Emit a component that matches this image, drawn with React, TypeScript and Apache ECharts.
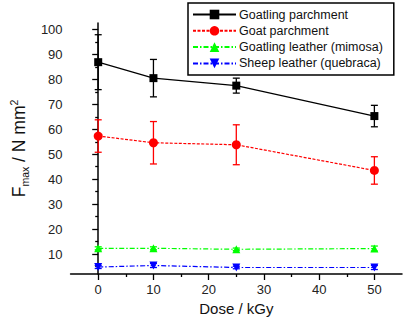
import React, { useEffect, useRef } from "react";
import * as echarts from "echarts";

const doses = [0, 10, 25, 50];
const seriesNames = [
  "Goatling parchment",
  "Goat parchment",
  "Goatling leather (mimosa)",
  "Sheep leather (quebraca)",
];
const goatlingParchment = [86.9, 80.5, 77.5, 65.3];
const goatlingParchmentErr = [11, 7.5, 3, 4.3];
const goatParchment = [57.3, 54.6, 53.8, 43.5];
const goatParchmentErr = [6.5, 8.5, 8, 5.5];
const goatlingLeather = [12.3, 12.3, 11.9, 12.2];
const goatlingLeatherErr = [0.6, 0.6, 0.5, 1.0];
const sheepLeather = [4.8, 5.4, 4.6, 4.6];
const sheepLeatherErr = [0.6, 0.8, 0.5, 0.8];

const yLabelValues = [10, 20, 30, 40, 50, 60, 70, 80, 90, 100];
const yMinorValues = [5, 15, 25, 35, 45, 55, 65, 75, 85, 95];
const xLabelValues = [0, 10, 20, 30, 40, 50];
const xMinorValues = [5, 15, 25, 35, 45];

const FONT = "Liberation Sans, Arial, sans-serif";

export default function App() {
  const ref = useRef<HTMLDivElement>(null);
  useEffect(() => {
    if (!ref.current) return;
    const chart = echarts.init(ref.current, null, { renderer: "svg" });
    const colors = ["#000000", "#ff0000", "#00ff00", "#0000ff"];
    const values = [goatlingParchment, goatParchment, goatlingLeather, sheepLeather];
    const errs = [goatlingParchmentErr, goatParchmentErr, goatlingLeatherErr, sheepLeatherErr];
    const symbols = ["rect", "circle", "triangle", "path://M0,0 L10,0 L5,9 Z"];
    const symbolSizes = [8, 9, 8, 8];
    const lineTypes: any[] = ["solid", [3, 1.5], [5, 2, 1.5, 2], [5, 2, 1.5, 2]];

    const lineSeries = values.map((vals, i) => ({
      name: seriesNames[i],
      type: "line",
      xAxisIndex: 0,
      yAxisIndex: 0,
      data: doses.map((d, j) => [d, vals[j]]),
      symbol: symbols[i],
      symbolSize: symbolSizes[i],
      itemStyle: { color: colors[i] },
      lineStyle: { color: colors[i], width: 1.2, type: lineTypes[i] },
      z: 3,
    }));

    const errSeries = values.map((vals, i) => ({
      name: seriesNames[i] + " err",
      type: "custom",
      xAxisIndex: 0,
      yAxisIndex: 0,
      data: doses.map((d, j) => [d, vals[j] - errs[i][j], vals[j] + errs[i][j]]),
      renderItem: (params: any, api: any) => {
        const lo = api.coord([api.value(0), api.value(1)]);
        const hi = api.coord([api.value(0), api.value(2)]);
        const w = 3.5;
        const style = { stroke: colors[i], lineWidth: 1.3 };
        return {
          type: "group",
          children: [
            { type: "line", shape: { x1: lo[0], y1: lo[1], x2: hi[0], y2: hi[1] }, style },
            { type: "line", shape: { x1: lo[0] - w, y1: lo[1], x2: lo[0] + w, y2: lo[1] }, style },
            { type: "line", shape: { x1: hi[0] - w, y1: hi[1], x2: hi[0] + w, y2: hi[1] }, style },
          ],
        };
      },
      z: 2,
      silent: true,
    }));

    const axisLine = { show: true, lineStyle: { color: "#000", width: 1.5 } };

    chart.setOption({
      animation: false,
      grid: { left: 67, right: 1, top: 23, bottom: 50, containLabel: false },
      legend: {
        orient: "vertical",
        left: 188,
        top: 3,
        data: seriesNames,
        itemWidth: 43,
        itemHeight: 12,
        itemGap: 3.3,
        padding: [5, 11, 5, 4],
        borderColor: "#000",
        borderWidth: 1.5,
        borderRadius: 0,
        backgroundColor: "#fff",
        textStyle: { fontSize: 12.5, fontFamily: FONT, color: "#111", padding: [0, 0, 0, -2] },
      },
      xAxis: [
        {
          type: "value",
          min: -5,
          max: 55,
          name: "Dose / kGy",
          nameLocation: "middle",
          nameGap: 27,
          nameTextStyle: { fontSize: 15, fontFamily: FONT, color: "#111" },
          axisLine,
          splitLine: { show: false },
          axisTick: { show: true, customValues: xLabelValues, length: 6, inside: false, lineStyle: { color: "#000", width: 1.3 } },
          axisLabel: { customValues: xLabelValues, fontSize: 13, fontFamily: FONT, color: "#222", margin: 9 },
        },
        {
          type: "value",
          min: -5,
          max: 55,
          position: "bottom",
          axisLine: { show: false },
          splitLine: { show: false },
          axisTick: { show: true, customValues: xMinorValues, length: 3, lineStyle: { color: "#000", width: 1.3 } },
          axisLabel: { show: false },
        },
      ],
      yAxis: [
        {
          type: "value",
          min: 2,
          max: 102.6,
          name: "{a|F}{b|max}{a| / N mm}{c|2}",
          nameLocation: "middle",
          nameRotate: 90,
          nameGap: 32,
          nameTextStyle: {
            fontFamily: FONT,
            color: "#111",
            rich: {
              a: { fontSize: 17.5, fontFamily: FONT, color: "#111", verticalAlign: "middle", lineHeight: 22 },
              b: { fontSize: 10.5, fontFamily: FONT, color: "#111", verticalAlign: "bottom", lineHeight: 22, padding: [8, 0, 0, 0] },
              c: { fontSize: 10.5, fontFamily: FONT, color: "#111", verticalAlign: "top", lineHeight: 22, padding: [0, 0, 10, 0] },
            },
          },
          axisLine,
          splitLine: { show: false },
          axisTick: { show: true, customValues: yLabelValues, length: 6, lineStyle: { color: "#000", width: 1.3 } },
          axisLabel: { customValues: yLabelValues, fontSize: 13, fontFamily: FONT, color: "#222", margin: 8 },
        },
        {
          type: "value",
          min: 2,
          max: 102.6,
          position: "left",
          axisLine: { show: false },
          splitLine: { show: false },
          axisTick: { show: true, customValues: yMinorValues, length: 3, lineStyle: { color: "#000", width: 1.3 } },
          axisLabel: { show: false },
        },
      ],
      series: [...errSeries, ...lineSeries],
    });
    return () => chart.dispose();
  }, []);
  return (
    <div
      ref={ref}
      style={{ position: "absolute", left: 0, top: 0, width: 403, height: 324, background: "#fff" }}
    />
  );
}
